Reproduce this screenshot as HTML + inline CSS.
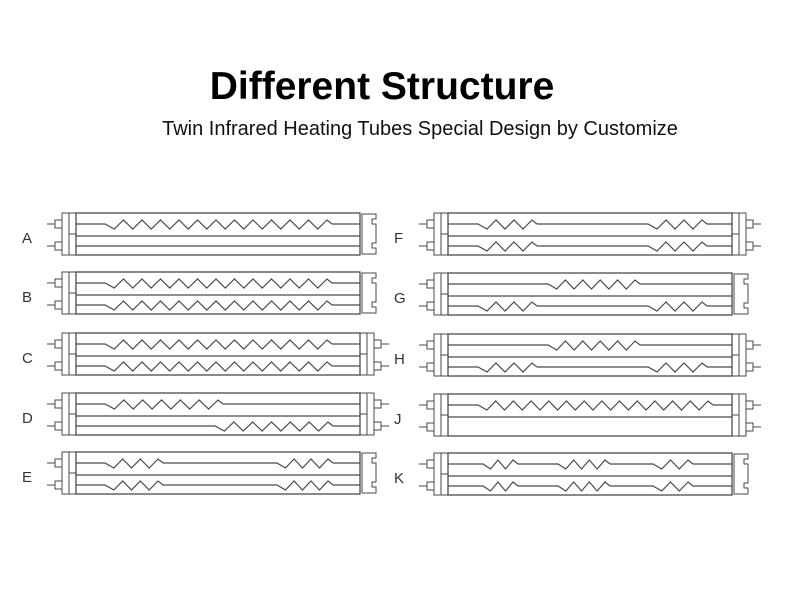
<!DOCTYPE html><html><head><style>
body{margin:0;background:#fff;width:790px;height:597px;overflow:hidden;position:relative;font-family:"Liberation Sans",sans-serif}
.t{position:absolute;left:0;width:764px;text-align:center;top:65px;font-size:39px;font-weight:bold;color:#000}
.s{position:absolute;left:0;width:840px;text-align:center;top:118px;font-size:20px;color:#111}
svg{position:absolute;left:0;top:0}
</style></head><body>
<div class="t">Different Structure</div>
<div class="s">Twin Infrared Heating Tubes Special Design by Customize</div>
<svg id="g" width="790" height="597" xmlns="http://www.w3.org/2000/svg"></svg>
<script>
const S='#4a4a4a';let o='';
function zig(x1,x2,y){let p=`M${x1-5},${y} L${x1},${y}`;let n=Math.max(1,Math.round((x2-x1)/18));let w=(x2-x1)/n;for(let i=0;i<n;i++){let a=x1+i*w;p+=` L${a+w*0.5},${y+5} L${a+w},${y-4}`;}p+=` L${x2+5},${y}`;return p;}
function wire(x0,y,segs){const L=284;let cur=x0;let d='';segs.forEach(s=>{d+=`M${cur},${y} L${x0+s[0]-5},${y} `+zig(x0+s[0],x0+s[1],y)+' ';cur=x0+s[1]+5;});d+=`M${cur},${y} L${x0+L},${y}`;o+=`<path d="${d}" fill="none" stroke="${S}" stroke-width="1.2"/>`;}
function lcap(x0,y){o+=`<rect x="${x0-14}" y="${y}" width="7" height="42" fill="none" stroke="${S}"/><rect x="${x0-7}" y="${y}" width="7" height="42" fill="none" stroke="${S}"/><line x1="${x0-7}" y1="${y+21}" x2="${x0}" y2="${y+21}" stroke="${S}"/>`;
[11,33].forEach(d=>{o+=`<rect x="${x0-21}" y="${y+d-4}" width="7" height="8" fill="none" stroke="${S}"/><line x1="${x0-29}" y1="${y+d}" x2="${x0-21}" y2="${y+d}" stroke="${S}"/>`;});}
function rcap(x1,y){o+=`<rect x="${x1}" y="${y}" width="7" height="42" fill="none" stroke="${S}"/><rect x="${x1+7}" y="${y}" width="7" height="42" fill="none" stroke="${S}"/><line x1="${x1}" y1="${y+21}" x2="${x1+7}" y2="${y+21}" stroke="${S}"/>`;
[11,33].forEach(d=>{o+=`<rect x="${x1+14}" y="${y+d-4}" width="7" height="8" fill="none" stroke="${S}"/><line x1="${x1+21}" y1="${y+d}" x2="${x1+29}" y2="${y+d}" stroke="${S}"/>`;});}
function notch(x1,y){let x=x1+2;o+=`<path d="M${x},${y+1} L${x+14},${y+1} L${x+14},${y+6} L${x+10},${y+6} L${x+10},${y+11} L${x+14},${y+11} L${x+14},${y+30} L${x+10},${y+30} L${x+10},${y+35} L${x+14},${y+35} L${x+14},${y+41} L${x},${y+41} Z" fill="none" stroke="${S}"/>`;}
function tube(x0,y,lab,top,bot,dbl){o+=`<rect x="${x0}" y="${y}" width="284" height="42" fill="none" stroke="${S}" stroke-width="1.3"/>`;
o+=`<text x="${x0-54}" y="${y+30}" font-family="Liberation Sans,sans-serif" font-size="15" fill="#333">${lab}</text>`;
lcap(x0,y);wire(x0,y+11,top);o+=`<line x1="${x0}" y1="${y+23}" x2="${x0+284}" y2="${y+23}" stroke="${S}" stroke-width="1.2"/>`;if(bot)wire(x0,y+33,bot);
if(dbl)rcap(x0+284,y);else notch(x0+284,y);}
const L=76,R=448;
tube(L,213,'A',[[29,251]],[],0);
tube(L,272,'B',[[29,251]],[[29,251]],0);
tube(L,333,'C',[[29,251]],[[29,251]],1);
tube(L,393,'D',[[29,142]],[[139,252]],1);
tube(L,452,'E',[[29,82],[201,252]],[[29,82],[201,252]],0);
tube(R,213,'F',[[30,84],[200,254]],[[30,84],[200,254]],1);
tube(R,273,'G',[[100,187]],[[30,84],[200,254]],0);
tube(R,334,'H',[[100,187]],[[30,84],[200,254]],1);
tube(R,394,'J',[[30,260]],null,1);
tube(R,453,'K',[[35,65],[110,157],[205,240]],[[35,65],[110,157],[205,240]],0);
document.getElementById('g').innerHTML=o;
</script>
</body></html>
